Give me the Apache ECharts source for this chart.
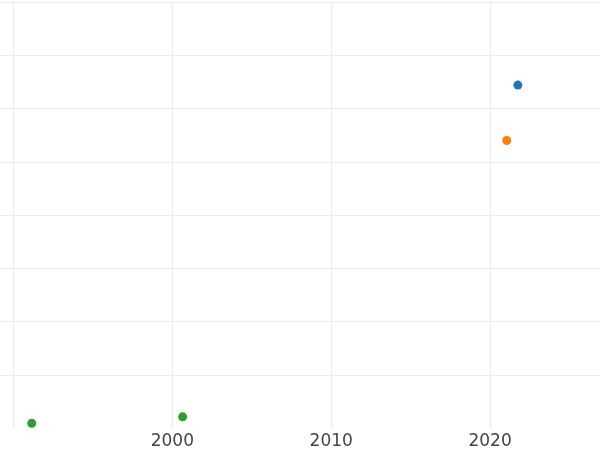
<!DOCTYPE html>
<html><head><meta charset="utf-8">
<script src="https://cdn.jsdelivr.net/npm/echarts@6/dist/echarts.min.js"></script>
<style>html,body{margin:0;padding:0;background:#fff}#c{width:600px;height:450px}</style>
</head><body><div id="c"></div>
<script>
const seriesNames = ['A', 'B', 'C'];
const seriesColors = ['#1f77b4', '#ff7f0e', '#2ca02c'];
const seriesA = [[2021.75, 6.44]];
const seriesB = [[2021.05, 5.40]];
const seriesC = [[1991.15, 0.09], [2000.65, 0.21]];
const xTicks = [1990, 2000, 2010, 2020];
const xMin = 1990, xMax = 2026.92, yMin = 0, yMax = 8;

const chart = echarts.init(document.getElementById('c'), null, {renderer: 'canvas'});
const gridLine = {lineStyle: {color: '#ebebeb', width: 1}};
chart.setOption({
  animation: false,
  grid: [
    {left: 0, right: 0, top: 2, bottom: 22, containLabel: false},
    {left: 13.45, right: 0, top: 2, bottom: 22, containLabel: false}
  ],
  xAxis: [
    {gridIndex: 0, type: 'value', min: 0, max: 1, show: false},
    {gridIndex: 1, type: 'value', min: xMin, max: xMax, interval: 10,
     axisLine: {show: false}, axisTick: {show: false},
     splitLine: Object.assign({show: true, showMaxLine: false}, gridLine),
     axisLabel: {showMinLabel: false, showMaxLabel: false, color: '#444', fontSize: 17,
       fontFamily: 'DejaVu Sans', margin: 5,
       formatter: v => (xTicks.indexOf(v) >= 0 && v !== xTicks[0]) ? String(v) : ''}}
  ],
  yAxis: [
    {gridIndex: 0, type: 'value', min: yMin, max: yMax, interval: 1,
     axisLine: {show: false}, axisTick: {show: false}, axisLabel: {show: false},
     splitLine: Object.assign({show: true, showMinLine: false}, gridLine)},
    {gridIndex: 1, type: 'value', min: yMin, max: yMax, interval: 1, show: false,
     splitLine: {show: false}}
  ],
  series: [seriesA, seriesB, seriesC].map((d, i) => ({
    name: seriesNames[i], type: 'scatter', xAxisIndex: 1, yAxisIndex: 1,
    data: d, symbolSize: 9, itemStyle: {color: seriesColors[i], opacity: 1}
  }))
});
</script></body></html>
